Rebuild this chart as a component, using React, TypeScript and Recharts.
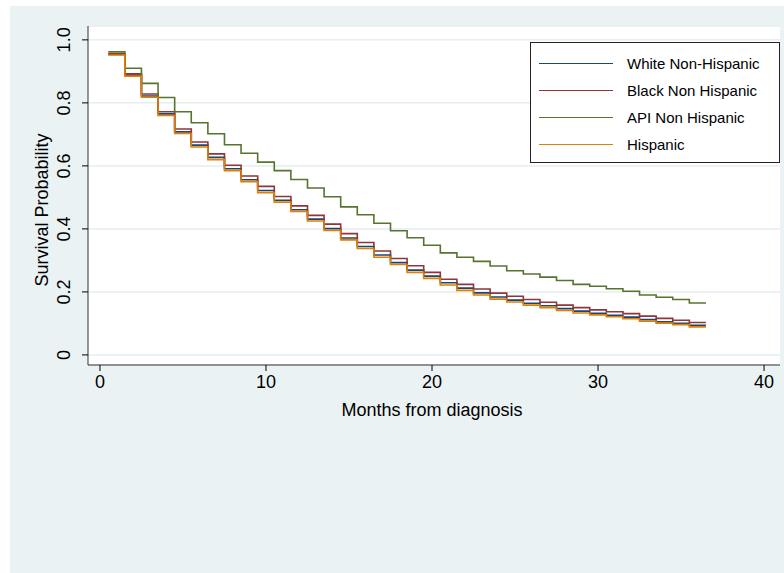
import React from 'react';
import { LineChart, Line, XAxis, YAxis, CartesianGrid } from 'recharts';

// step start times (months); last entry closes the final step
const stepStarts = [0.5, 1.5, 2.5, 3.5, 4.5, 5.5, 6.5, 7.5, 8.5, 9.5, 10.5, 11.5, 12.5, 13.5, 14.5, 15.5, 16.5, 17.5, 18.5, 19.5, 20.5, 21.5, 22.5, 23.5, 24.5, 25.5, 26.5, 27.5, 28.5, 29.5, 30.5, 31.5, 32.5, 33.5, 34.5, 35.5, 36.5];

const whiteNH = [0.954, 0.888, 0.822, 0.765, 0.708, 0.666, 0.627, 0.591, 0.556, 0.522, 0.491, 0.461, 0.431, 0.401, 0.371, 0.344, 0.317, 0.293, 0.269, 0.25, 0.229, 0.212, 0.197, 0.184, 0.174, 0.164, 0.156, 0.147, 0.139, 0.132, 0.126, 0.12, 0.112, 0.105, 0.1, 0.094];
const blackNH = [0.956, 0.892, 0.828, 0.772, 0.717, 0.676, 0.638, 0.602, 0.568, 0.535, 0.503, 0.473, 0.443, 0.415, 0.385, 0.357, 0.33, 0.306, 0.283, 0.262, 0.24, 0.224, 0.209, 0.196, 0.186, 0.176, 0.167, 0.158, 0.15, 0.143, 0.137, 0.131, 0.123, 0.116, 0.11, 0.103];
const apiNH = [0.962, 0.91, 0.862, 0.817, 0.772, 0.737, 0.702, 0.667, 0.64, 0.612, 0.585, 0.557, 0.53, 0.502, 0.47, 0.445, 0.418, 0.394, 0.372, 0.348, 0.324, 0.31, 0.297, 0.282, 0.267, 0.257, 0.247, 0.236, 0.224, 0.218, 0.21, 0.202, 0.19, 0.183, 0.176, 0.165];
const hispanic = [0.952, 0.885, 0.818, 0.76, 0.703, 0.66, 0.62, 0.585, 0.55, 0.515, 0.485, 0.455, 0.425, 0.395, 0.365, 0.338, 0.31, 0.287, 0.262, 0.243, 0.222, 0.205, 0.19, 0.177, 0.168, 0.158, 0.15, 0.141, 0.133, 0.127, 0.121, 0.115, 0.107, 0.101, 0.096, 0.089];

const xTicks = [0, 10, 20, 30, 40];
const yTicks = [0, 0.2, 0.4, 0.6, 0.8, 1.0];

const series = [
  { key: 'white', name: 'White Non-Hispanic', color: '#1a476f', values: whiteNH },
  { key: 'black', name: 'Black Non Hispanic', color: '#90353b', values: blackNH },
  { key: 'api', name: 'API Non Hispanic', color: '#55752f', values: apiNH },
  { key: 'hisp', name: 'Hispanic', color: '#e37e00', values: hispanic },
];

const data = stepStarts.map((t, i) => {
  const row: any = { t };
  series.forEach((s) => {
    row[s.key] = s.values[Math.min(i, s.values.length - 1)];
  });
  return row;
});

const font = 'Arial, "Liberation Sans", sans-serif';

const YTick = (props: any) => {
  const { x, y, payload } = props;
  const label = payload.value === 0 ? '0' : payload.value.toFixed(1);
  return (
    <text x={x - 10} y={y} transform={`rotate(-90 ${x - 10} ${y})`} textAnchor="middle" fontSize={18} fill="#000" fontFamily={font}>
      {label}
    </text>
  );
};

export default function App() {
  return (
    <div style={{ position: 'absolute', left: 10, top: 6, width: 774, height: 567, background: '#eaf2f3', fontFamily: font }}>
      <LineChart width={774} height={567} data={data} margin={{ top: 20, right: 4, bottom: 178, left: 38 }}>
        <CartesianGrid horizontal vertical={false} fill="#ffffff" stroke="#e6eef0" strokeWidth={1.5} />
        <XAxis
          type="number"
          dataKey="t"
          domain={[-0.72, 40.96]}
          allowDataOverflow
          ticks={xTicks}
          height={30}
          tickSize={6}
          tickMargin={4}
          tick={{ fontSize: 18, fill: '#000', fontFamily: font }}
          stroke="#000"
          axisLine={{ stroke: '#333' }}
        />
        <YAxis
          type="number"
          domain={[-0.032, 1.044]}
          allowDataOverflow
          ticks={yTicks}
          tickSize={6}
          width={40}
          tick={<YTick />}
          stroke="#000"
          axisLine={{ stroke: '#333' }}
        />
        {series.map((s) => (
          <Line key={s.key} type="stepAfter" dataKey={s.key} stroke={s.color} strokeWidth={1.6} dot={false} isAnimationActive={false} />
        ))}
      </LineChart>
      <div style={{ position: 'absolute', left: 32, top: 204, transform: 'translate(-50%, -50%) rotate(-90deg)', fontSize: 18, whiteSpace: 'nowrap' }}>
        Survival Probability
      </div>
      <div style={{ position: 'absolute', left: 422, top: 404, transform: 'translate(-50%, -50%)', fontSize: 18, whiteSpace: 'nowrap' }}>
        Months from diagnosis
      </div>
      <div style={{ position: 'absolute', left: 520, top: 36, width: 250, height: 121, background: '#fff', border: '1px solid #222', boxSizing: 'border-box' }}>
        {series.map((s, i) => (
          <div key={s.key} style={{ position: 'absolute', left: 8, top: 12 + i * 27, height: 16, display: 'flex', alignItems: 'center' }}>
            <div style={{ width: 74, height: 0, borderTop: `1.6px solid ${s.color}` }} />
            <span style={{ marginLeft: 14, fontSize: 15, whiteSpace: 'nowrap' }}>{s.name}</span>
          </div>
        ))}
      </div>
    </div>
  );
}
